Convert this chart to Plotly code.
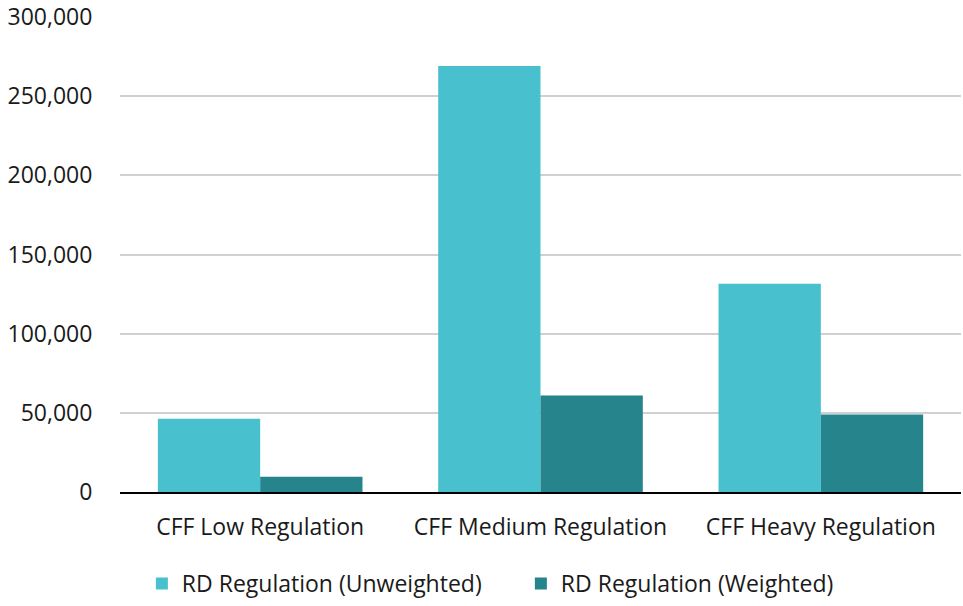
import plotly.graph_objects as go

categories = ["CFF Low Regulation", "CFF Medium Regulation", "CFF Heavy Regulation"]
unweighted = [46200, 269100, 131600]
weighted = [9600, 60900, 48900]
series_names = ["RD Regulation (Unweighted)", "RD Regulation (Weighted)"]
tick_vals = [0, 50000, 100000, 150000, 200000, 250000, 300000]
tick_text = ["0", "50,000", "100,000", "150,000", "200,000", "250,000", "300,000"]

FONT = "Open Sans"
FS = 23

fig = go.Figure()
fig.add_trace(go.Bar(x=categories, y=unweighted, name=series_names[0],
                     marker=dict(color="#48C0CD", line=dict(width=0))))
fig.add_trace(go.Bar(x=categories, y=weighted, name=series_names[1],
                     marker=dict(color="#25848C", line=dict(width=0))))

fig.update_layout(
    width=963, height=606,
    margin=dict(l=120, r=2, t=17, b=113),
    barmode="group", bargap=0.27, bargroupgap=0,
    plot_bgcolor="white", paper_bgcolor="white",
    font=dict(family=FONT, size=FS, color="#1a1a1a"),
    showlegend=True,
    legend=dict(orientation="h", x=0.026, xanchor="left", y=-0.145, yanchor="top",
                font=dict(family=FONT, size=FS, color="#1a1a1a"),
                itemwidth=30, traceorder="normal",
                entrywidth=334, entrywidthmode="pixels"),
)
fig.update_xaxes(showgrid=False, showline=True, linecolor="#000000", linewidth=1.5,
                 ticks="outside", ticklen=14, tickcolor="rgba(0,0,0,0)",
                 tickfont=dict(family=FONT, size=FS), automargin=False)
fig.update_yaxes(range=[0, 300000], tickvals=tick_vals, ticktext=tick_text,
                 showgrid=True, gridcolor="#D0D0D0", gridwidth=2, zeroline=False,
                 showline=False, ticks="outside", ticklen=22, tickcolor="rgba(0,0,0,0)",
                 tickfont=dict(family=FONT, size=FS), automargin=False,
                 ticklabeloverflow="allow")

fig.write_html("out.html", config={"displayModeBar": False},
               post_script="document.body.style.margin='0';document.body.style.overflow='hidden';")
